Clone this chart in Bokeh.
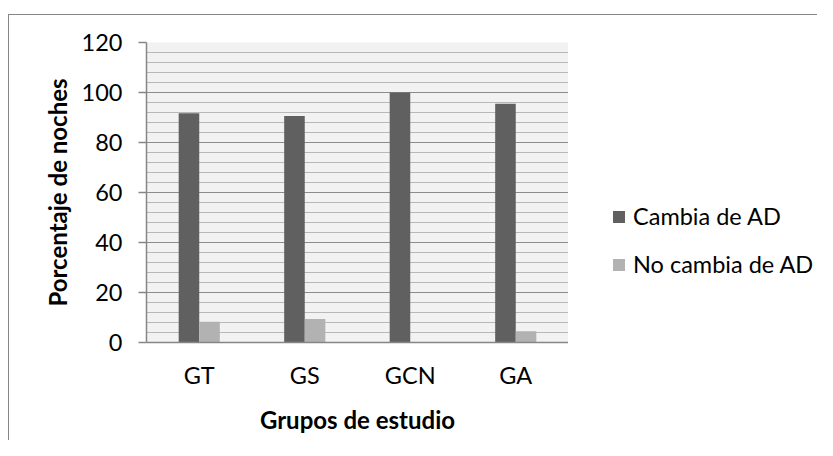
from bokeh.plotting import figure
from bokeh.models import ColumnDataSource, Legend, LegendItem, FixedTicker, Range1d, FactorRange
from bokeh.layouts import row
from bokeh.transform import dodge
from bokeh.embed import file_html
from bokeh.resources import INLINE

categories = ["GT", "GS", "GCN", "GA"]
cambia = [91.7, 90.6, 100.0, 95.5]
no_cambia = [8.3, 9.4, 0.0, 4.5]
y_ticks = [0, 20, 40, 60, 80, 100, 120]
series_names = ["Cambia de AD", "No cambia de AD"]
series_colors = ["#606060", "#b2b2b2"]

FONT = "Lato"
GRAY_AXIS = "#868686"

src = ColumnDataSource(dict(cat=categories, cambia=cambia, no_cambia=no_cambia))

p = figure(x_range=categories, y_range=(0, 120), width=568, height=440,
           output_backend="svg", toolbar_location=None,
           min_border_left=146, min_border_top=42, min_border_right=0,
           min_border_bottom=98)
p.background_fill_color = "#f2f2f2"
p.border_fill_color = None
p.outline_line_color = None

p.vbar(x=dodge("cat", -0.0975, range=p.x_range), top="cambia", width=0.195,
       source=src, fill_color=series_colors[0], line_color=None)
p.vbar(x=dodge("cat", 0.0975, range=p.x_range), top="no_cambia", width=0.195,
       source=src, fill_color=series_colors[1], line_color=None)

p.xgrid.grid_line_color = None
p.ygrid.grid_line_color = "#8c8c8c"
p.ygrid.grid_line_width = 1.2
p.ygrid.minor_grid_line_color = "#b8b8b8"
p.ygrid.minor_grid_line_width = 1.2

yt = FixedTicker(ticks=y_ticks, minor_ticks=list(range(0, 121, 4)))
p.yaxis.ticker = yt
p.ygrid.ticker = yt

for ax in (p.xaxis[0], p.yaxis[0]):
    ax.axis_line_color = GRAY_AXIS
    ax.axis_line_width = 1.5
    ax.major_label_text_font = FONT
    ax.major_label_text_font_size = "23.5px"
    ax.major_label_text_color = "black"
    ax.axis_label_text_font = FONT
    ax.axis_label_text_font_size = "24px"
    ax.axis_label_text_font_style = "bold"
    ax.axis_label_text_color = "black"
    ax.minor_tick_line_color = None

p.yaxis.major_tick_line_color = GRAY_AXIS
p.yaxis.major_tick_line_width = 1.5
p.yaxis.major_tick_out = 8
p.yaxis.major_tick_in = 0
p.yaxis.major_label_standoff = 16
p.yaxis.axis_label = "Porcentaje de noches"
p.yaxis.axis_label_standoff = 7

p.xaxis.major_tick_line_color = None
p.xaxis.major_tick_out = 0
p.xaxis.major_label_standoff = 18
p.xaxis.axis_label = "Grupos de estudio"
p.xaxis.axis_label_standoff = 13

# legend panel: a second figure whose zero-height bars supply the legend swatches
pl = figure(width=249, height=440, output_backend="svg", toolbar_location=None,
            x_range=FactorRange(*categories), y_range=Range1d(0, 120),
            x_axis_location=None, y_axis_location=None,
            min_border_left=0, min_border_right=0, min_border_top=0,
            min_border_bottom=0)
pl.outline_line_color = None
pl.xgrid.grid_line_color = None
pl.ygrid.grid_line_color = None
pl.background_fill_color = None
pl.border_fill_color = None
lr = [pl.vbar(x="cat", top=col, bottom=col, width=0.2, source=src,
              fill_color=c, line_color=None)
      for col, c in zip(["cambia", "no_cambia"], series_colors)]
legend = Legend(items=[LegendItem(label=n, renderers=[r]) for n, r in zip(series_names, lr)],
                location=(43, 64), orientation="vertical",
                background_fill_alpha=0, border_line_color=None,
                padding=0, margin=0, spacing=20,
                glyph_width=15, glyph_height=15, label_standoff=7,
                label_text_font=FONT, label_text_font_size="23.5px",
                label_text_color="black")
pl.add_layout(legend, "center")

layout = row(p, pl, styles={
    "background-color": "white",
    "background-image": "linear-gradient(#868686, #868686), linear-gradient(#868686, #868686)",
    "background-size": "100% 1px, 1px 100%",
    "background-position": "8px 14px, 8px 14px",
    "background-repeat": "no-repeat",
})

open("out.html", "w").write(file_html(layout, INLINE))
